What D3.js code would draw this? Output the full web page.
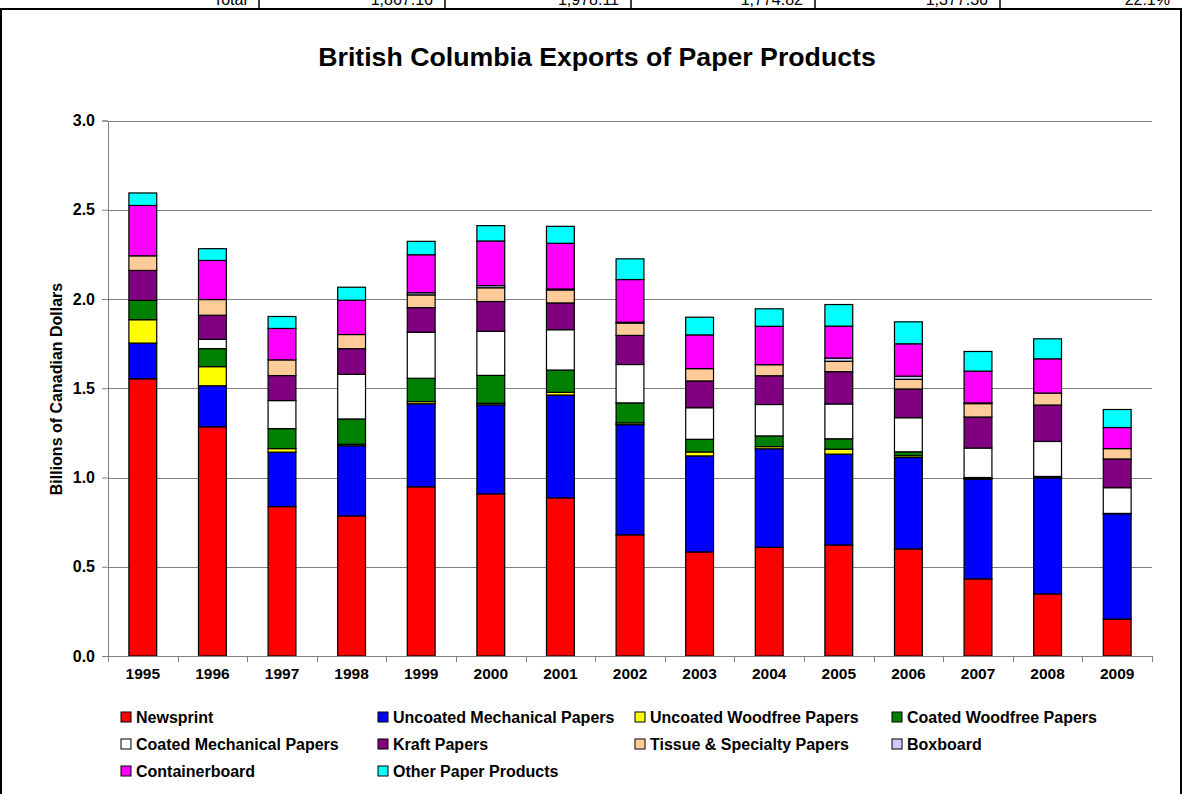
<!DOCTYPE html>
<html><head><meta charset="utf-8">
<script src="https://cdn.jsdelivr.net/npm/d3@7"></script>
<style>body{margin:0;background:#fff}svg{display:block;font-family:Arial,"Liberation Sans",sans-serif}</style>
</head><body><svg id="c" width="1182" height="794"></svg>
<script>
const years = ['1995','1996','1997','1998','1999','2000','2001','2002','2003','2004','2005','2006','2007','2008','2009'];
const newsprint       = [1.553,1.284,0.837,0.785,0.948,0.908,0.886,0.679,0.583,0.609,0.622,0.600,0.432,0.348,0.207];
const uncoatedMech    = [0.200,0.230,0.305,0.393,0.465,0.499,0.576,0.617,0.538,0.552,0.509,0.512,0.558,0.650,0.590];
const uncoatedWoodfree= [0.131,0.107,0.020,0.008,0.012,0.008,0.015,0.010,0.022,0.012,0.028,0.010,0.004,0.004,0.000];
const coatedWoodfree  = [0.108,0.101,0.112,0.142,0.131,0.157,0.125,0.112,0.071,0.060,0.058,0.022,0.006,0.004,0.002];
const coatedMech      = [0.000,0.052,0.157,0.250,0.258,0.247,0.226,0.215,0.177,0.176,0.195,0.191,0.165,0.196,0.144];
const kraft           = [0.168,0.135,0.140,0.144,0.138,0.167,0.150,0.163,0.150,0.161,0.181,0.161,0.174,0.204,0.161];
const tissue          = [0.082,0.088,0.088,0.079,0.071,0.077,0.073,0.069,0.069,0.062,0.058,0.054,0.075,0.067,0.058];
const boxboard        = [0.000,0.000,0.000,0.000,0.012,0.012,0.005,0.005,0.000,0.000,0.018,0.018,0.004,0.000,0.000];
const containerboard  = [0.282,0.219,0.176,0.192,0.213,0.250,0.256,0.239,0.189,0.215,0.179,0.181,0.178,0.192,0.118];
const otherPaper      = [0.070,0.066,0.067,0.073,0.075,0.086,0.095,0.116,0.099,0.098,0.121,0.123,0.110,0.112,0.101];

const seriesNames = ['Newsprint','Uncoated Mechanical Papers','Uncoated Woodfree Papers','Coated Woodfree Papers',
  'Coated Mechanical Papers','Kraft Papers','Tissue & Specialty Papers','Boxboard','Containerboard','Other Paper Products'];
const seriesValues = [newsprint,uncoatedMech,uncoatedWoodfree,coatedWoodfree,coatedMech,kraft,tissue,boxboard,containerboard,otherPaper];
const seriesColors = ['#FF0000','#0000FF','#FFFF00','#008000','#FFFFFF','#800080','#FFCC99','#CCCCFF','#FF00FF','#00FFFF'];
const yTicks = [0,0.5,1.0,1.5,2.0,2.5,3.0];
const tableLabels = ['Total','1,867.16','1,978.11','1,774.82','1,377.36','22.1%'];

const svg = d3.select('#c');
svg.append('rect').attr('width',1182).attr('height',794).attr('fill','#fff');

// top table strip (cut off at the page top)
const cellEdges = [0,259,445,631,815,1000,1182];
const strip = svg.append('g');
cellEdges.slice(1,-1).forEach(xv=>strip.append('line').attr('x1',xv).attr('x2',xv).attr('y1',0).attr('y2',9).attr('stroke','#000').attr('stroke-width',1.5));
tableLabels.forEach((t,i)=>strip.append('text').attr('x',cellEdges[i+1]-12).attr('y',5).attr('text-anchor','end')
  .attr('font-size',16).text(t));
// chart border
svg.append('rect').attr('x',1).attr('y',9).attr('width',1180).attr('height',800).attr('fill','none').attr('stroke','#000').attr('stroke-width',2);

const x = d3.scaleBand().domain(years).range([108,1152]).paddingInner(0.6).paddingOuter(0.3);
const y = d3.scaleLinear().domain([0,3]).range([656,120.5]);

// gridlines
svg.append('g').selectAll('line').data(yTicks.slice(1)).join('line')
  .attr('x1',108).attr('x2',1152).attr('y1',d=>Math.round(y(d))+0.5).attr('y2',d=>Math.round(y(d))+0.5)
  .attr('stroke','#808080').attr('stroke-width',1);

// stacked bars
const rows = years.map((yr,i)=>{const o={year:yr}; seriesNames.forEach((s,j)=>o[s]=seriesValues[j][i]); return o;});
const stack = d3.stack().keys(seriesNames)(rows);
const bars = svg.append('g');
stack.forEach((layer,j)=>{
  bars.append('g').attr('fill',seriesColors[j]).selectAll('rect').data(layer.filter(d=>d[1]-d[0]>0)).join('rect')
    .attr('x',d=>x(d.data.year)).attr('width',x.bandwidth())
    .attr('y',d=>y(d[1])).attr('height',d=>y(d[0])-y(d[1]))
    .attr('stroke','#000').attr('stroke-width',1.2);
});

// y axis
const yAxis = svg.append('g').attr('transform','translate(108,0)')
  .call(d3.axisLeft(y).tickValues(yTicks).tickFormat(d3.format('.1f')).tickSize(6).tickPadding(7));
yAxis.select('.domain').attr('stroke','#808080');
yAxis.selectAll('.tick line').attr('stroke','#808080');
yAxis.selectAll('text').attr('font-size',16).attr('font-weight','bold').attr('fill','#000').attr('font-family','Arial,"Liberation Sans",sans-serif');

// x axis
const xAxis = svg.append('g').attr('transform','translate(0,656)')
  .call(d3.axisBottom(x).tickSize(0).tickPadding(12));
xAxis.select('.domain').attr('stroke','#808080');
xAxis.selectAll('text').attr('font-size',15.5).attr('font-weight','bold').attr('fill','#000').attr('font-family','Arial,"Liberation Sans",sans-serif');
const bounds = years.map(yr=>x(yr)+x.bandwidth()/2-x.step()/2).concat([x(years[years.length-1])+x.bandwidth()/2+x.step()/2]);
svg.append('g').selectAll('line').data(bounds).join('line')
  .attr('x1',d=>Math.round(d)+0.5).attr('x2',d=>Math.round(d)+0.5).attr('y1',656).attr('y2',662).attr('stroke','#808080');

// titles
svg.append('text').attr('x',597).attr('y',66).attr('text-anchor','middle').attr('font-size',26.7).attr('font-weight','bold').text('British Columbia Exports of Paper Products');
svg.append('text').attr('transform','translate(62,389) rotate(-90)').attr('text-anchor','middle').attr('font-size',16).attr('font-weight','bold').text('Billions of Canadian Dollars');

// legend
const lg = svg.append('g');
seriesNames.forEach((s,i)=>{
  const col=i%4,row=Math.floor(i/4);
  const gx=121+col*257, gy=717+row*27;
  lg.append('rect').attr('x',gx).attr('y',gy-5).attr('width',10).attr('height',10).attr('fill',seriesColors[i]).attr('stroke','#000');
  lg.append('text').attr('x',gx+15).attr('y',gy).attr('dy','0.36em').attr('font-size',16).attr('font-weight','bold').text(s);
});
</script></body></html>
